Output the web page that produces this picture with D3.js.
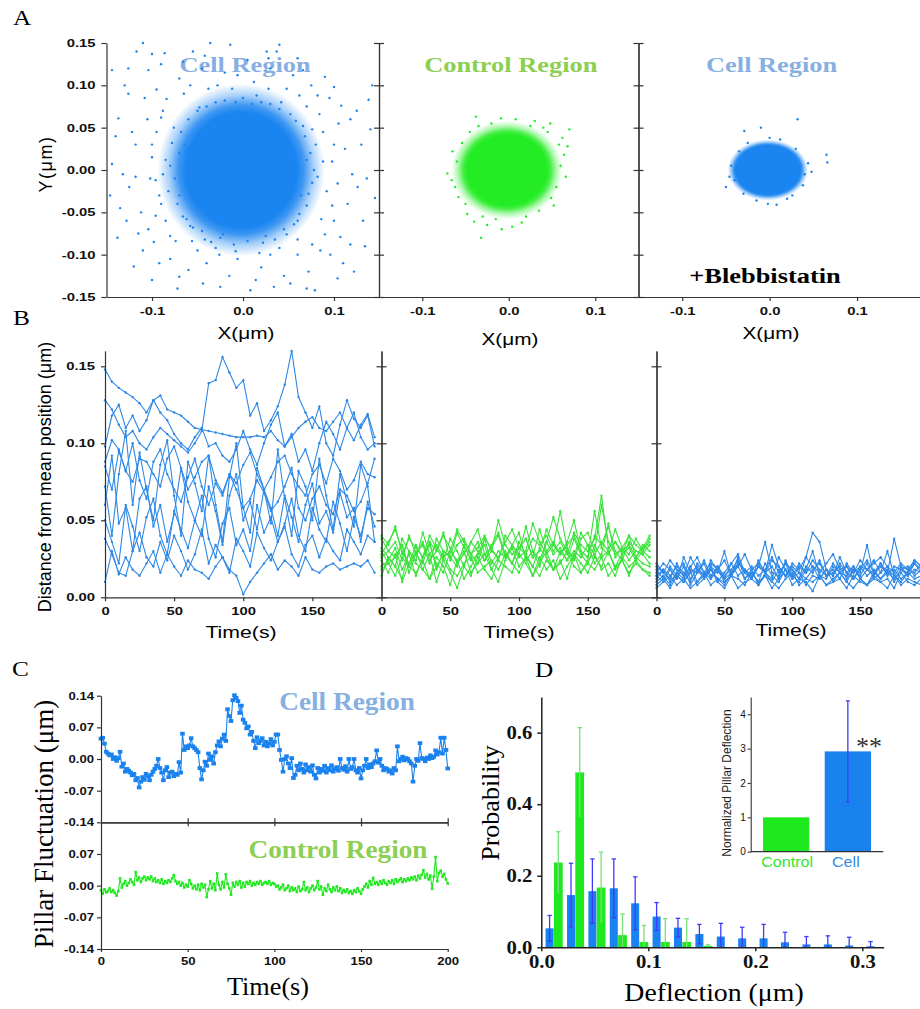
<!DOCTYPE html>
<html><head><meta charset="utf-8">
<script src="https://cdn.jsdelivr.net/npm/d3@7"></script>
<style>body{margin:0;background:#fff}svg{display:block}</style>
</head><body><svg id="c" width="920" height="1009"></svg>
<script>
// ================= DATA =================
// ---- Panel A: pillar position clouds (nm). Dense centre summarised by [cx, cy, rx, ry] in µm (solid core, outer fade)
const scatterTitles = ["Cell Region", "Control Region", "Cell Region"];
const cloudCore = [[-0.002,0,0.061,0.068],[-0.002,0,0.046,0.042],[-0.002,0,0.037,0.029]];
const cloudHalo = [[-0.002,0,0.092,0.102],[-0.002,0,0.064,0.058],[-0.002,0,0.046,0.036]];
const cellPtsA = [[-70,20],[-75,-10],[-68,45],[-72,-40],[-80,5],[-66,-55],[-60,60],[-55,-68],[-40,75],[-45,-72],[-20,82],[-25,-80],[0,85],[5,-84],[20,80],[25,-78],[40,72],[45,-70],[58,58],[60,-60],[68,40],[70,-42],[74,20],[76,-15],[78,0],[72,-28],[66,52],[-62,-58],[-78,32],[-82,-25],[-50,70],[-10,-88],[15,88],[35,-82],[-35,-85],[52,66],[-58,-66],[80,30],[-85,12],[62,-52],[30,78],[-30,80],[10,78],[-8,80],[48,-76],[-48,74],[82,-8],[-88,-5],[-70,-30],[70,12],[-64,30],[64,-30],[56,-64],[-22,-76],[22,-86],[-76,50],[76,48],[-42,-82],[42,80],[88,10],
  [-110,150],[-117,140],[-100,137],[-144,118],[-14,148],[26,140],[37,140],[-130,100],[-137,61],[-144,7],[138,83],[140,48],[145,-33],[134,-90],[-120,-114],[8,-142],[79,-142],[-25,-138],[107,-79],[-95,95],[-105,60],[-118,30],[-125,-20],[-112,-50],[-98,-85],[-80,-105],[-60,-118],[-40,-110],[-15,-125],[20,-115],[45,-125],[60,-100],[85,-95],[100,-60],[115,-40],[120,-5],[112,25],[105,55],[95,85],[75,100],[55,112],[30,120],[5,130],[-20,115],[-45,120],[-70,108],[-88,70],[-100,15],[-92,-30],[-85,-60],[92,-25],[98,10],[88,45],[70,75],[-65,90],[125,70],[-128,-60],[-135,-45],[60,132],[-55,140],[-90,125],[110,-110],[-110,-95],[30,-100],[-50,-95],[90,110],
  [-90,-40],[-95,45],[-102,-10],[-108,85],[-115,-75],[-122,45],[-132,-5],[-138,-80],[-126,120],[-104,118],[-86,138],[-66,128],[-42,135],[-28,100],[-6,112],[12,104],[28,132],[48,96],[66,118],[82,88],[100,98],[118,60],[130,30],[126,-20],[132,-60],[118,-88],[96,-100],[72,-120],[52,-134],[34,-138],[14,-130],[-6,-105],[-26,-100],[-44,-134],[-70,-126],[-92,-110],[-104,-70],[-118,-8],[-96,-12],[-84,84],[-74,-84],[-58,100],[-38,96],[-12,96],[28,96],[62,88],[84,66],[98,-42],[90,-76],[76,-88],[60,-82],[40,-92],[18,-98],[-8,-96],[-30,-92],[-56,-84],[-80,-78],[-96,-54],[-100,30],[-90,62],[104,-16],[100,30],[108,76],[86,-58],[-126,90],[136,-10],[142,100],[-146,-30],[-140,40],[122,-120],[-100,-130],[-72,-140],[40,148],[-36,150],[70,-140],[104,-128]];
const ctrlPtsA = [[-38,63],[-9,61],[8,60],[70,48],[-32,-80],[4,-67],[-40,-61],[-71,-4],[64,18],[49,-33],[-54,32],[-60,10],[-62,-20],[-50,-40],[-30,-55],[-15,-58],[20,-55],[35,-48],[55,-20],[60,5],[58,30],[45,45],[25,52],[-20,55],[-45,45],[-66,-12],[66,-8],[-25,-65],[15,-62],[40,50],[-58,-32],[52,-42],[62,38],[-8,-70],[30,58],[-65,22],[68,28],[-48,-52],[48,55],[-35,52]];
const blebPtsA = [[32,60],[65,18],[66,9],[-10,50],[-29,46],[-50,-20],[8,-41],[40,-5],[44,8],[-44,5],[-40,-12],[30,25],[-25,32],[20,-34],[-15,-36],[38,-18],[-35,22],[0,38],[12,36],[-2,-40],[48,-2],[-46,-8],[26,-30],[-30,-28]];
const tickXA = [-0.1, 0, 0.1];
const tickYA = [-0.15,-0.1,-0.05,0,0.05,0.1,0.15];

// ---- Panel B: distance from mean position (nm) vs time (s)
const timeB = [0,5,10,15,20,25,30,35,40,45,50,55,60,65,70,75,80,85,90,95,100,105,110,115,120,125,130,135,140,145,150,155,160,165,170,175,180,185,190,195];
const cellLinesB = [
 [148,140,136,133,130,126,120,128,131,122,120,118,114,110,109,108,107,106,105,104,104,104,105,104,108,102,98,104,110,114,117,110,108,114,120,110,102,112,119,104],
 [128,122,112,104,108,100,96,104,110,106,102,98,94,100,108,139,141,156,146,136,141,118,126,108,115,124,138,160,130,120,110,124,100,92,112,128,116,110,118,98],
 [98,118,125,110,118,108,115,128,120,115,106,100,96,104,110,98,100,92,88,96,108,96,86,100,112,120,98,106,88,96,82,100,114,106,96,110,120,104,96,100],
 [88,102,96,82,75,90,88,80,72,90,98,84,70,78,88,92,76,68,80,74,86,94,80,70,78,88,92,80,72,66,80,86,74,90,82,70,76,88,80,78],
 [72,40,80,108,60,94,70,50,86,102,66,40,88,74,56,92,60,36,78,100,58,42,84,70,48,96,64,40,82,72,50,90,66,44,80,62,46,86,72,36],
 [60,92,48,58,30,64,72,46,60,36,54,84,62,50,40,72,56,34,66,80,50,62,44,70,58,40,66,52,36,60,74,48,56,42,68,52,58,36,62,46],
 [50,36,22,60,46,30,52,64,40,28,56,44,32,50,66,38,26,48,58,34,44,30,60,42,52,36,48,64,40,30,58,44,36,62,48,30,52,40,58,54],
 [38,28,16,14,30,42,26,20,36,24,40,30,18,28,44,22,34,26,16,38,30,20,42,32,24,36,46,28,20,34,40,26,38,30,24,44,36,28,40,36],
 [10,30,15,26,18,14,22,30,16,28,20,14,24,18,16,12,20,26,18,14,2,10,16,22,28,18,24,20,14,26,18,16,20,22,18,20,22,20,24,16],
 [85,70,95,82,100,76,64,88,96,80,70,62,78,90,72,60,74,66,80,70,58,64,76,68,56,62,72,84,58,50,64,72,60,54,70,66,56,62,74,90]];
const ctrlLinesB = [
 [38,30,26,34,20,28,36,24,30,40,32,22,28,36,30,24,34,42,28,22,32,38,26,30,44,34,28,36,50,30,26,40,34,46,30,24,36,30,28,34],
 [28,36,44,30,22,34,26,40,32,24,38,30,20,36,44,28,32,24,40,34,26,30,48,36,28,34,56,32,24,38,42,30,60,36,28,32,40,26,34,30],
 [20,24,32,18,28,14,26,34,22,16,30,24,12,20,28,34,18,26,30,22,36,28,20,32,26,18,30,24,38,28,22,34,26,30,20,28,32,24,30,26],
 [32,26,20,38,30,24,42,28,34,26,30,44,36,28,22,38,32,40,26,34,28,46,30,24,36,52,38,30,26,42,34,28,36,30,44,32,28,38,30,36],
 [24,16,28,10,22,30,18,12,26,20,8,24,30,16,22,28,18,10,24,32,20,26,14,22,30,18,24,12,28,22,16,26,20,30,18,24,14,26,22,20],
 [40,34,46,28,38,32,26,36,30,42,24,34,38,28,32,40,30,26,36,44,32,28,38,34,40,30,36,28,42,34,30,38,66,32,36,28,40,34,30,38],
 [30,22,26,34,16,28,22,36,18,30,26,20,34,24,28,38,22,30,26,34,42,24,30,20,36,28,32,24,30,26,34,22,28,48,26,32,24,30,28,22],
 [14,26,20,12,30,22,18,28,10,24,16,6,20,14,26,18,12,24,20,16,28,22,14,26,18,24,12,20,28,16,22,18,26,14,20,24,16,22,18,14],
 [26,30,36,24,40,28,34,22,38,30,26,42,32,28,36,24,30,50,34,28,32,38,26,44,30,36,28,34,40,30,26,56,32,28,36,30,34,26,32,40],
 [18,22,14,26,20,16,24,12,20,28,18,14,22,26,16,20,24,18,28,22,16,26,20,14,24,18,22,30,20,16,24,28,18,22,14,26,20,24,18,16]];
const blebLinesB = [
 [14,10,18,12,20,8,16,22,12,18,10,14,26,12,18,8,16,20,12,24,14,10,18,30,14,12,20,16,10,18,14,22,12,16,20,10,18,14,22,16],
 [20,16,12,22,14,26,18,12,20,16,30,14,22,18,12,24,16,34,20,14,18,12,26,42,36,18,14,22,16,20,12,18,24,16,30,14,20,18,16,22],
 [8,12,6,14,10,16,8,12,18,10,6,14,12,8,16,10,14,6,12,18,8,12,10,4,14,8,12,16,10,6,12,8,14,10,12,6,16,10,8,12],
 [16,22,18,12,26,16,20,14,24,18,12,22,28,16,20,14,18,26,16,22,12,20,16,24,18,14,22,16,20,12,18,24,16,22,14,20,18,16,24,20],
 [12,18,14,20,16,10,22,16,12,20,14,18,24,16,12,20,36,16,14,22,18,12,20,16,24,14,18,12,22,16,20,14,18,12,16,38,20,14,18,16],
 [10,14,8,16,12,20,10,14,18,12,8,16,20,12,16,10,22,14,10,18,12,16,8,14,12,18,10,16,14,20,12,8,16,12,18,14,10,16,12,14],
 [18,12,20,14,10,18,16,24,14,20,12,16,22,18,14,20,16,12,26,18,14,22,16,20,12,18,14,26,16,12,20,18,14,22,16,12,18,20,14,18],
 [6,10,14,8,12,6,10,16,8,12,10,14,6,10,12,8,14,10,6,12,16,8,12,10,14,8,10,12,6,14,10,8,12,10,6,14,8,12,10,8],
 [22,16,24,18,14,20,26,16,22,18,24,14,20,28,18,22,16,24,20,14,22,18,26,20,16,22,28,18,20,16,24,18,22,26,20,16,22,18,24,20],
 [14,18,10,16,22,12,18,14,20,10,16,22,14,18,12,20,16,10,18,14,20,16,12,18,22,14,16,20,12,18,16,34,14,20,16,18,12,16,22,18]];
const tickXB = [0, 50, 100, 150];
const tickYB = [0, 0.05, 0.10, 0.15];

// ---- Panel C: pillar fluctuation (nm), sampled every 1 s from 0 to 200 s
const cellC = [45,47,34,16,12,8,10,0,4,-4, 2,16,-17,-10,-28,-22,-26,-30,-36,-33, -47,-42,-63,-50,-40,-46,-33,-38,-47,-35,
 -28,-22,-15,0,-20,-30,-47,-25,-18,-40, -30,-28,-38,-33,-35,-7,-30,56,20,28, 24,30,46,28,24,20,15,-20,-45,-25,
 -6,-15,12,-2,6,-10,15,30,39,28, 45,54,40,110,95,84,130,141,135,128, 102,118,87,80,68,72,54,60,40,24,
 48,35,40,46,30,38,28,35,44,30, 38,54,54,20,-2,-28,0,6,-10,-20, 2,-42,-35,-15,-25,-10,-22,-30,-12,-25,
 -18,-28,-14,-35,-43,-20,-30,-22,-26,-15, -30,-20,-25,-14,-28,-22,-18,-26,0,-20, -24,-16,-28,0,-22,-18,0,-25,-30,-20,
 -43,-25,-15,0,-20,-12,-18,-10,-5,19, -8,0,-15,-25,-20,-22,-28,-25,-32,-20, -25,28,-5,0,5,-3,2,0,-5,-10,
 -50,-15,0,-4,35,2,0,-5,3,0, 8,2,5,19,10,15,47,12,47,20, -21];
const ctrlC = [-10,-18,-8,-15,-12,-6,-14,-10,-16,-22, -12,16,-4,4,10,0,6,14,8,2, 30,12,18,8,16,20,12,18,14,20,
 10,16,8,12,6,14,4,10,6,12, 8,16,23,10,4,8,0,6,-4,2, -2,12,4,-6,0,-8,2,-10,4,-4,
 2,-25,-8,10,-6,4,-10,27,2,-8, 8,-4,25,4,-6,-20,6,-2,8,2, 10,-4,6,-2,8,4,10,0,6,2,
 8,4,10,2,6,8,4,10,2,6, 4,-2,0,-8,-4,2,-10,-6,0,-12, -4,-10,-6,-14,-2,-12,-8,8,-10,-4,
 -14,-6,0,-10,-4,10,-8,-2,-20,-6, -12,2,-8,-14,-4,-10,-2,-12,-6,-16, -10,-14,-8,-16,-12,-18,-10,-14,-6,-12,
 -18,-8,-2,4,-4,10,2,17,4,8, 2,10,4,12,6,2,10,6,12,4, 14,8,12,16,8,14,10,16,12,18,
 14,20,12,22,16,24,34,18,26,14, 22,-7,20,63,10,28,33,20,26,14, 5];
const timeC = d3.range(0, 201, 1);   // sampling grid (s)
const tickXC = [0, 50, 100, 150, 200];
const tickYCtop = [-0.14, -0.07, 0, 0.07, 0.14];
const tickYCbot = [-0.14, -0.07, 0, 0.07];

// ---- Panel D: deflection histogram (bin lower edges, µm) and probabilities
const binsD = [0,0.02,0.04,0.06,0.08,0.10,0.12,0.14,0.16,0.18,0.20,0.22,0.24,0.26,0.28,0.30];
const cellProbD = [0.053,0.146,0.157,0.165,0.123,0.086,0.055,0.037,0.030,0.025,0.025,0.014,0.008,0.008,0.005,0.003];
const cellErrD  = [0.036,0.089,0.090,0.082,0.074,0.039,0.026,0.027,0.037,0.031,0.039,0.028,0.022,0.024,0.023,0.013];
const ctrlProbD = [0.237,0.489,0.167,0.034,0.015,0.015,0.015,0.004,0.001,0,0,0,0,0,0,0];
const ctrlErrD  = [0.086,0.125,0.099,0.059,0.046,0.065,0.065,0.003,0,0,0,0,0,0,0,0];
const tickXD = [0, 0.1, 0.2, 0.3];
const tickYD = [0, 0.2, 0.4, 0.6];
// inset
const insetCats = ["Control", "Cell"];
const insetVals = [1.0, 2.92];
const insetErr  = [0, 1.47];
const insetTicks = [0, 1, 2, 3, 4];

// ================= DRAWING =================
const SANS = "'Liberation Sans', Arial, Helvetica, sans-serif";
const SERIF = "'Liberation Serif', 'Times New Roman', Times, serif";
const BLUE = "#1a82ee", GREEN = "#1ee81e", SC_BLUE = "#1a84f0", SC_GREEN = "#24ec24";
const LBLUE = "#2e88e6", LGREEN = "#3ce23c";
const svg = d3.select("#c");
const defs = svg.append("defs");

function label(g, x, y, s, o) {
  o = o || {};
  let tr = `translate(${x},${y})`;
  if (o.rot) tr += ` rotate(${o.rot})`;
  if (o.sx) tr += ` scale(${o.sx},1)`;
  const t = g.append("text").attr("transform", tr)
    .attr("text-anchor", o.anchor || "middle")
    .attr("font-family", o.family || SANS)
    .attr("font-size", o.size || 12)
    .attr("font-weight", o.weight || "normal")
    .attr("fill", o.fill || "#000").text(s);
  if (o.ls) t.attr("letter-spacing", o.ls);
  return t;
}
function addAxis(tx, ty, axis, o) {
  o = o || {};
  const g = svg.append("g").attr("transform", `translate(${tx},${ty})`).call(axis);
  const col = o.stroke || "#333";
  g.select(".domain").attr("stroke", col).attr("stroke-width", o.sw || 1.2);
  g.selectAll(".tick line").attr("stroke", col).attr("stroke-width", o.sw || 1.2);
  const t = g.selectAll(".tick text").attr("font-family", o.family || SANS)
    .attr("font-size", o.size || 11).attr("font-weight", o.weight || "bold").attr("fill", o.fill || "#111");
  if (o.sx) t.each(function () {
    const s = d3.select(this); const x = +(s.attr("x") || 0);
    s.attr("x", x / o.sx).attr("transform", `scale(${o.sx},1)`);
  });
  return g;
}
const noLab = () => "";

// panel letters
label(svg, 13, 25, "A", {family: SERIF, size: 22, anchor: "start", sx: 1.15});
label(svg, 13, 325, "B", {family: SERIF, size: 22, anchor: "start", sx: 1.15});
label(svg, 12, 676, "C", {family: SERIF, size: 22, anchor: "start", sx: 1.15});
label(svg, 535, 677, "D", {family: SERIF, size: 22, anchor: "start", sx: 1.15});

// ---------- Panel A ----------
const yA = d3.scaleLinear().domain([-0.15, 0.15]).range([297, 43]);
const xA = [
  d3.scaleLinear().domain([-0.15, 0.15]).range([106.5, 379.5]),
  d3.scaleLinear().domain([-0.15, 0.15]).range([379, 638.5]),
  d3.scaleLinear().domain([-0.15, 0.172]).range([638.5, 920])];
const ptsA = [cellPtsA, ctrlPtsA, blebPtsA];
const colA = [SC_BLUE, SC_GREEN, SC_BLUE];
const titleColA = ["#87afe2", "#8ccf52", "#87afe2"];
xA.forEach((x, i) => {
  const g = svg.append("g");
  label(g, (x.range()[0] + x(0.15)) / 2 + 2, 72, scatterTitles[i], {family: SERIF, size: 22, weight: "bold", fill: titleColA[i], sx: 1.2});
  const c = cloudCore[i], h = cloudHalo[i];
  const p = c[2] / h[2];
  const grad = defs.append("radialGradient").attr("id", "cloud" + i);
  [[0, 1], [p, 1], [p + (1 - p) * 0.25, 0.85], [p + (1 - p) * 0.6, 0.38], [1, 0]].forEach(([o, a]) =>
    grad.append("stop").attr("offset", o).attr("stop-color", colA[i]).attr("stop-opacity", a));
  g.append("ellipse").attr("cx", x(h[0])).attr("cy", yA(h[1]))
    .attr("rx", x(h[0] + h[2]) - x(h[0])).attr("ry", yA(h[1]) - yA(h[1] + h[3]))
    .attr("fill", `url(#cloud${i})`);
  g.selectAll("circle.p").data(ptsA[i]).join("circle").attr("class", "p")
    .attr("cx", d => x(d[0] / 1000)).attr("cy", d => yA(d[1] / 1000)).attr("r", 1.2).attr("fill", colA[i]);
  addAxis(0, 297, d3.axisBottom(x).tickValues(tickXA).tickFormat(d => d.toFixed(1)).tickSize(4).tickPadding(6).tickSizeOuter(0), {size: 11, sx: 1.35});
  if (i === 0) {
    addAxis(x.range()[0], 0, d3.axisLeft(yA).tickValues(tickYA).tickFormat(d => d.toFixed(2)).tickSize(5).tickPadding(6).tickSizeOuter(0), {size: 11, sx: 1.35});
  } else {
    addAxis(x.range()[0], 0, d3.axisLeft(yA).tickValues(tickYA).tickFormat(noLab).tickSize(5).tickSizeOuter(0));
    addAxis(x.range()[0], 0, d3.axisRight(yA).tickValues(tickYA).tickFormat(noLab).tickSize(5).tickSizeOuter(0));
  }
});
label(svg, 246, 339, "X(\u03bcm)", {size: 16, sx: 1.3});
label(svg, 510, 345, "X(\u03bcm)", {size: 16, sx: 1.3});
label(svg, 771, 339, "X(\u03bcm)", {size: 16, sx: 1.3});
label(svg, 52, 164, "Y(\u03bcm)", {size: 18, rot: -90, ls: 1.5});
label(svg, 765, 283, "+Blebbistatin", {family: SERIF, size: 22, weight: "bold", sx: 1.2});

// ---------- Panel B ----------
const yB = d3.scaleLinear().domain([0, 0.16]).range([597.3, 350.9]);
const xB = [
  d3.scaleLinear().domain([0, 200]).range([105, 381.5]),
  d3.scaleLinear().domain([0, 200]).range([381.5, 656.5]),
  d3.scaleLinear().domain([0, 194]).range([656.5, 920])];
const linesB = [cellLinesB, ctrlLinesB, blebLinesB];
const colB = [LBLUE, LGREEN, LBLUE];
xB.forEach((x, i) => {
  const g = svg.append("g");
  const line = d3.line().x((d, k) => x(timeB[k])).y(d => yB(d / 1000));
  linesB[i].forEach(series => {
    g.append("path").attr("d", line(series)).attr("fill", "none").attr("stroke", colB[i]).attr("stroke-width", 1.1);
    g.selectAll(null).data(series).join("circle").attr("cx", (d, k) => x(timeB[k])).attr("cy", d => yB(d / 1000)).attr("r", 1.2).attr("fill", colB[i]);
  });
  addAxis(0, 597.3, d3.axisBottom(x).tickValues(tickXB).tickSize(4).tickPadding(6).tickSizeOuter(0), {size: 11, sx: 1.35});
  if (i === 0) {
    addAxis(x.range()[0], 0, d3.axisLeft(yB).tickValues(tickYB).tickFormat(d => d.toFixed(2)).tickSize(4).tickPadding(6).tickSizeOuter(0), {size: 11, sx: 1.35});
  } else {
    addAxis(x.range()[0], 0, d3.axisLeft(yB).tickValues(tickYB).tickFormat(noLab).tickSize(5).tickSizeOuter(0));
    addAxis(x.range()[0], 0, d3.axisRight(yB).tickValues(tickYB).tickFormat(noLab).tickSize(5).tickSizeOuter(0));
  }
});
label(svg, 241, 638, "Time(s)", {size: 17, sx: 1.25});
label(svg, 519, 638, "Time(s)", {size: 17, sx: 1.25});
label(svg, 791, 636, "Time(s)", {size: 17, sx: 1.25});
label(svg, 51, 477, "Distance from mean position (\u03bcm)", {size: 18, rot: -90});

// ---------- Panel C ----------
const xC = d3.scaleLinear().domain([0, 200]).range([101, 447.7]);
const yCt = d3.scaleLinear().domain([-0.14, 0.14]).range([822.3, 695.7]);
const yCb = d3.scaleLinear().domain([-0.14, 0.14]).range([949, 822.3]);
label(svg, 347, 710, "Cell Region", {family: SERIF, size: 26, weight: "bold", fill: "#87afe2", sx: 1.05});
label(svg, 338, 858, "Control Region", {family: SERIF, size: 26, weight: "bold", fill: "#8ccf52", sx: 1.05});
[[cellC, yCt, BLUE, 4.6, 3.8], [ctrlC, yCb, GREEN, 2.6, 2.6]].forEach(([vals, y, col, w, h]) => {
  const g = svg.append("g");
  const line = d3.line().x((d, k) => xC(timeC[k])).y(d => y(d / 1000));
  g.append("path").attr("d", line(vals)).attr("fill", "none").attr("stroke", col).attr("stroke-width", 1.1);
  g.selectAll(null).data(vals).join("rect")
    .attr("x", (d, k) => xC(timeC[k]) - w / 2).attr("y", d => y(d / 1000) - h / 2)
    .attr("width", w).attr("height", h).attr("fill", col);
});
addAxis(101, 0, d3.axisLeft(yCt).tickValues(tickYCtop).tickFormat(d => d.toFixed(2)).tickSize(4).tickPadding(3).tickSizeOuter(0), {size: 10.5, sx: 1.25});
addAxis(101, 0, d3.axisLeft(yCb).tickValues(tickYCbot).tickFormat(d => d.toFixed(2)).tickSize(4).tickPadding(3).tickSizeOuter(0), {size: 10.5, sx: 1.25});
addAxis(0, 822.3, d3.axisBottom(xC).tickValues(tickXC.slice(1)).tickFormat(noLab).tickSize(4).tickSizeOuter(0));
addAxis(0, 822.3, d3.axisTop(xC).tickValues(tickXC.slice(1)).tickFormat(noLab).tickSize(4).tickSizeOuter(0));
addAxis(0, 949, d3.axisBottom(xC).tickValues(tickXC).tickSize(3).tickPadding(6).tickSizeOuter(0), {size: 10.5, sx: 1.25});
label(svg, 53, 824, "Pillar Fluctuation (\u03bcm)", {family: SERIF, size: 27, rot: -90});
label(svg, 268, 995, "Time(s)", {family: SERIF, size: 25, sx: 1.05});

// ---------- Panel D ----------
const xD = d3.scaleLinear().domain([0, 0.32]).range([541.3, 883.7]);
const yD = d3.scaleLinear().domain([0, 0.7]).range([947.3, 696.9]);
const gD = svg.append("g");
const barsD = [
  {vals: cellProbD, err: cellErrD, off: 0.004, w: 0.0075, fill: BLUE, ecol: "#3c3cff", botCap: true},
  {vals: ctrlProbD, err: ctrlErrD, off: 0.0118, w: 0.0082, fill: GREEN, ecol: "#78e078", botCap: false}];
barsD.forEach(s => {
  binsD.forEach((b, k) => {
    const v = s.vals[k], e = s.err[k];
    const x0 = xD(b + s.off), x1 = xD(b + s.off + s.w), xc = (x0 + x1) / 2;
    if (v > 0) gD.append("rect").attr("x", x0).attr("y", yD(v)).attr("width", x1 - x0).attr("height", yD(0) - yD(v)).attr("fill", s.fill);
    if (e > 0) {
      const lo = Math.max(0, v - e), hi = v + e;
      gD.append("line").attr("x1", xc).attr("x2", xc).attr("y1", yD(lo)).attr("y2", yD(hi)).attr("stroke", s.ecol).attr("stroke-width", 1.3);
      gD.append("line").attr("x1", xc - 2.2).attr("x2", xc + 2.2).attr("y1", yD(hi)).attr("y2", yD(hi)).attr("stroke", s.ecol).attr("stroke-width", 1.3);
      if (s.botCap && v - e > 0.003) gD.append("line").attr("x1", xc - 2.2).attr("x2", xc + 2.2).attr("y1", yD(lo)).attr("y2", yD(lo)).attr("stroke", s.ecol).attr("stroke-width", 1.3);
    }
  });
});
addAxis(541.3, 0, d3.axisLeft(yD).tickValues(tickYD).tickFormat(d => d.toFixed(1)).tickSize(4).tickPadding(5).tickSizeOuter(0), {family: SERIF, size: 18, sx: 1.15, stroke: "#222", sw: 1.5});
addAxis(0, 947.3, d3.axisBottom(xD).tickValues(tickXD).tickFormat(d => d.toFixed(1)).tickSize(4).tickPadding(4).tickSizeOuter(0), {family: SERIF, size: 18, sx: 1.15, stroke: "#222", sw: 1.5});
label(svg, 499, 803, "Probability", {family: SERIF, size: 26, rot: -90});
label(svg, 714, 1001, "Deflection (\u03bcm)", {family: SERIF, size: 26, sx: 1.07});

// inset
const xIn = d3.scaleBand().domain(insetCats).range([763, 871]).paddingInner(0.25).paddingOuter(0);
const yIn = d3.scaleLinear().domain([0, 4.5]).range([851.7, 697.1]);
const insetFill = [GREEN, BLUE];
const insetLab = ["#2ee82e", "#3a8ae8"];
insetCats.forEach((c, i) => {
  svg.append("rect").attr("x", xIn(c)).attr("y", yIn(insetVals[i])).attr("width", xIn.bandwidth()).attr("height", yIn(0) - yIn(insetVals[i])).attr("fill", insetFill[i]);
  if (insetErr[i] > 0) {
    const xc = xIn(c) + xIn.bandwidth() / 2;
    const lo = insetVals[i] - insetErr[i], hi = insetVals[i] + insetErr[i];
    svg.append("line").attr("x1", xc).attr("x2", xc).attr("y1", yIn(lo)).attr("y2", yIn(hi)).attr("stroke", "#3c3cff").attr("stroke-width", 1.3);
    [lo, hi].forEach(v => svg.append("line").attr("x1", xc - 2).attr("x2", xc + 2).attr("y1", yIn(v)).attr("y2", yIn(v)).attr("stroke", "#3c3cff").attr("stroke-width", 1.3));
  }
  label(svg, xIn(c) + xIn.bandwidth() / 2 + (i === 0 ? 1 : -2), 866.5, c, {size: 14, fill: insetLab[i], sx: 1.15});
});
addAxis(750.7, 0, d3.axisLeft(yIn).tickValues(insetTicks).tickFormat(d3.format("d")).tickSize(3).tickPadding(2).tickSizeOuter(0), {size: 10, weight: "normal", stroke: "#333", sw: 1.1});
svg.append("line").attr("x1", 750.7).attr("x2", 883.3).attr("y1", yIn(0)).attr("y2", yIn(0)).attr("stroke", "#333").attr("stroke-width", 1.2);
label(svg, 731, 783, "Normalized Pillar Deflection", {size: 12, rot: -90, fill: "#222"});
label(svg, 869, 755, "**", {family: SERIF, size: 26, fill: "#333"});
</script></body></html>
